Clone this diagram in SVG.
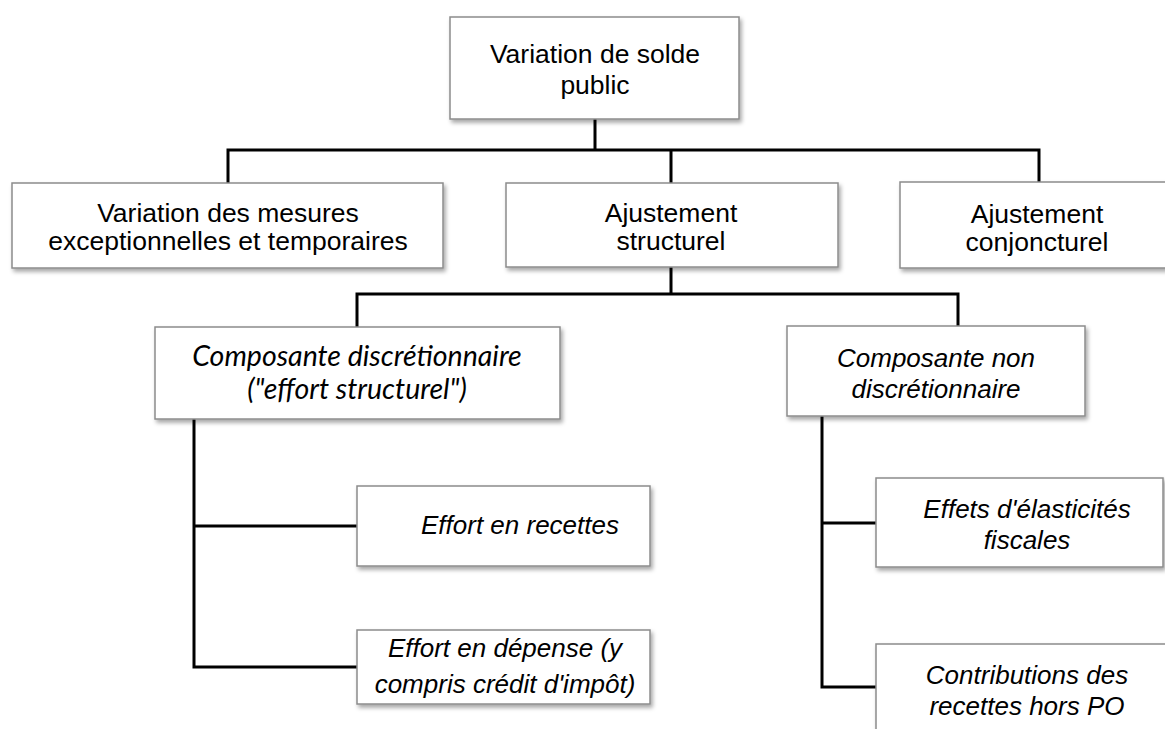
<svg xmlns="http://www.w3.org/2000/svg" width="1165" height="729" viewBox="0 0 1165 729">
<defs>
<filter id="sh" x="-10%" y="-10%" width="130%" height="140%">
<feDropShadow dx="2" dy="3" stdDeviation="2" flood-color="#000" flood-opacity="0.35"/>
</filter>
<style>
.box{fill:#fff;stroke:#8c8c8c;stroke-width:1.5;filter:url(#sh)}
.t{font-family:"Liberation Sans",Arial,sans-serif;font-size:26.5px;fill:#000;text-anchor:middle}
.i{font-family:"Liberation Sans",Arial,sans-serif;font-size:26px;font-style:italic;fill:#000;text-anchor:middle}
.c{font-family:Lato,"Open Sans",sans-serif;font-size:28.5px;font-style:italic;fill:#000;text-anchor:middle}
.ln{fill:none;stroke:#000;stroke-width:3}
</style>
</defs>
<rect width="1165" height="729" fill="#fff"/>
<g id="connectors">
<path class="ln" d="M595 119 V150 M228 183 V150 H1039 V182 M671 150 V183"/>
<path class="ln" d="M671 267 V294 M357 327 V294 H958 V326"/>
<path class="ln" d="M194 419 V667 H357 M194 526 H357"/>
<path class="ln" d="M822 416 V687 H876 M822 523 H876"/>
</g>
<g id="n-top"><rect class="box" x="450" y="17" width="289" height="102"/>
<text class="t" x="595" y="63">Variation de solde</text><text class="t" x="595" y="94">public</text></g>
<g id="n-mesures"><rect class="box" x="12" y="183" width="431" height="85"/>
<text class="t" x="228" y="222">Variation des mesures</text><text class="t" x="228" y="250">exceptionnelles et temporaires</text></g>
<g id="n-structurel"><rect class="box" x="506" y="183" width="332" height="84"/>
<text class="t" x="671" y="222">Ajustement</text><text class="t" x="671" y="250">structurel</text></g>
<g id="n-conjoncturel"><rect class="box" x="900" y="182" width="280" height="86"/>
<text class="t" x="1037" y="223">Ajustement</text><text class="t" x="1037" y="251">conjoncturel</text></g>
<g id="n-discr"><rect class="box" x="155" y="327" width="405" height="92"/>
<text class="c" x="357" y="366">Composante discrétionnaire</text><text class="c" x="357" y="399">("effort structurel")</text></g>
<g id="n-nondiscr"><rect class="box" x="787" y="326" width="298" height="90"/>
<text class="i" x="936" y="367">Composante non</text><text class="i" x="936" y="398">discrétionnaire</text></g>
<g id="n-recettes"><rect class="box" x="357" y="486" width="293" height="80"/>
<text class="i" x="520" y="534">Effort en recettes</text></g>
<g id="n-depense"><rect class="box" x="357" y="630" width="293" height="74"/>
<text class="i" x="505" y="657">Effort en dépense (y</text><text class="i" x="505" y="693">compris crédit d'impôt)</text></g>
<g id="n-elasticites"><rect class="box" x="876" y="478" width="287" height="89"/>
<text class="i" x="1027" y="518">Effets d'élasticités</text><text class="i" x="1027" y="549">fiscales</text></g>
<g id="n-hors-po"><rect class="box" x="876" y="644" width="300" height="100"/>
<text class="i" x="1027" y="684">Contributions des</text><text class="i" x="1027" y="715">recettes hors PO</text></g>
</svg>
